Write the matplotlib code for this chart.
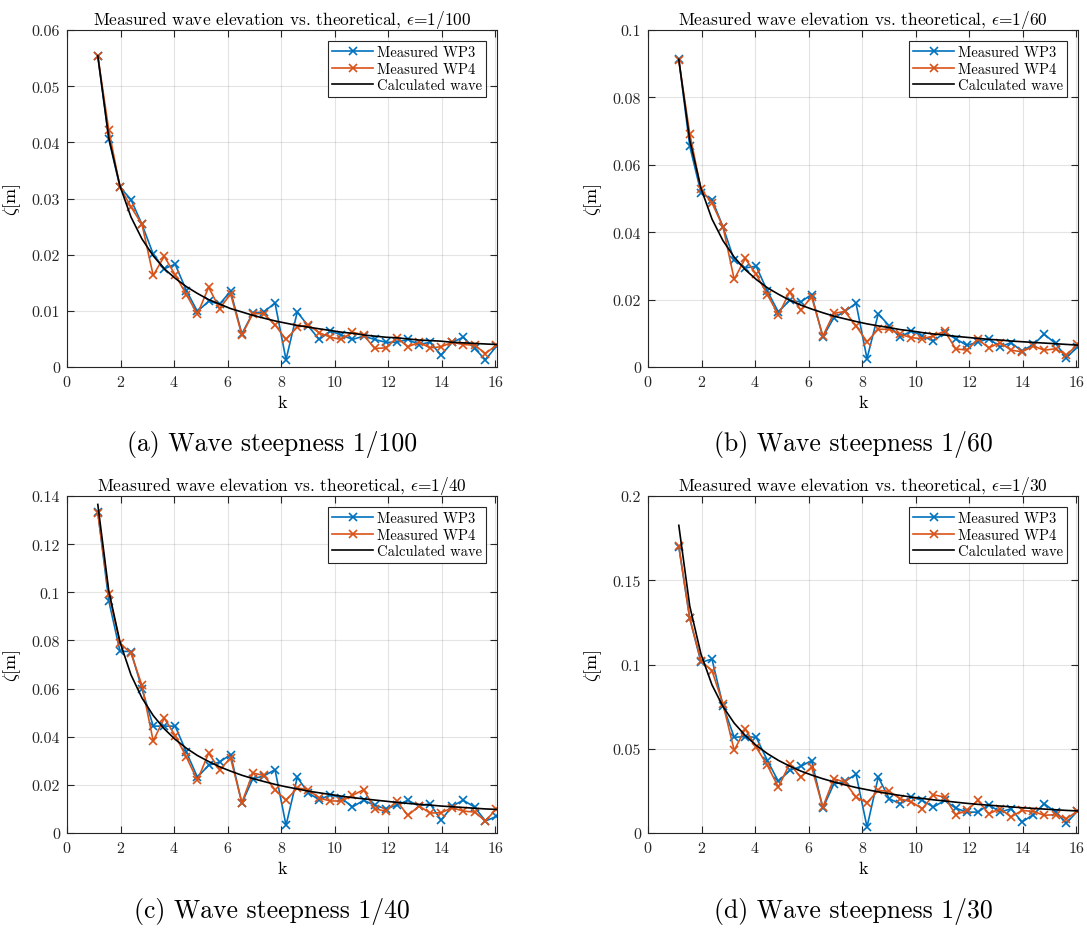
import matplotlib
matplotlib.use("Agg")
import matplotlib.pyplot as plt
from matplotlib.ticker import FuncFormatter, MultipleLocator

plt.rcParams["font.family"] = ["cmr10", "DejaVu Serif"]
plt.rcParams["mathtext.fontset"] = "cm"
plt.rcParams["axes.formatter.use_mathtext"] = True

# wave number k (same for all runs)
k = [1.15, 1.56, 1.98, 2.39, 2.80, 3.22, 3.63, 4.04, 4.46, 4.87, 5.29, 5.70,
     6.11, 6.53, 6.94, 7.35, 7.77, 8.18, 8.60, 9.01, 9.42, 9.84, 10.25, 10.66,
     11.08, 11.49, 11.91, 12.32, 12.73, 13.15, 13.56, 13.97, 14.39, 14.80,
     15.22, 15.63, 16.04]

# eps = 1/100
wp3_100 = [0.0554, 0.0406, 0.0320, 0.0298, 0.0254, 0.0201, 0.0175, 0.0183,
           0.0136, 0.0099, 0.0117, 0.0112, 0.0135, 0.0059, 0.0096, 0.0098,
           0.0114, 0.0013, 0.0098, 0.0073, 0.0049, 0.0064, 0.0057, 0.0049,
           0.0055, 0.0049, 0.0044, 0.0044, 0.0049, 0.0040, 0.0044, 0.0021,
           0.0044, 0.0053, 0.0033, 0.0013, 0.0037]
wp4_100 = [0.0554, 0.0422, 0.0320, 0.0285, 0.0254, 0.0163, 0.0197, 0.0164,
           0.0129, 0.0094, 0.0142, 0.0104, 0.0130, 0.0057, 0.0095, 0.0095,
           0.0075, 0.0049, 0.0071, 0.0075, 0.0061, 0.0053, 0.0049, 0.0062,
           0.0057, 0.0033, 0.0034, 0.0052, 0.0036, 0.0044, 0.0034, 0.0036,
           0.0044, 0.0040, 0.0039, 0.0024, 0.0039]
calc_100 = [0.0554, 0.0408, 0.0322, 0.0267, 0.0228, 0.0198, 0.0175, 0.0158,
            0.0143, 0.0131, 0.0120, 0.0112, 0.0104, 0.0098, 0.0092, 0.0087,
            0.0082, 0.0078, 0.0074, 0.0071, 0.0068, 0.0065, 0.0062, 0.0060,
            0.0057, 0.0055, 0.0053, 0.0052, 0.0050, 0.0048, 0.0047, 0.0046,
            0.0044, 0.0043, 0.0042, 0.0041, 0.0040]

# eps = 1/60
wp3_60 = [0.0914, 0.0655, 0.0517, 0.0497, 0.0416, 0.0317, 0.0294, 0.0299,
          0.0225, 0.0163, 0.0198, 0.0193, 0.0215, 0.0089, 0.0146, 0.0165,
          0.0189, 0.0025, 0.0158, 0.0122, 0.0089, 0.0107, 0.0092, 0.0077,
          0.0102, 0.0084, 0.0064, 0.0074, 0.0084, 0.0060, 0.0072, 0.0047,
          0.0067, 0.0097, 0.0070, 0.0028, 0.0059]
wp4_60 = [0.0910, 0.0692, 0.0527, 0.0487, 0.0416, 0.0260, 0.0322, 0.0275,
          0.0215, 0.0154, 0.0223, 0.0169, 0.0208, 0.0092, 0.0159, 0.0165,
          0.0122, 0.0075, 0.0112, 0.0112, 0.0097, 0.0087, 0.0084, 0.0092,
          0.0107, 0.0054, 0.0050, 0.0082, 0.0057, 0.0072, 0.0050, 0.0045,
          0.0062, 0.0050, 0.0054, 0.0035, 0.0067]
calc_60 = [0.0913, 0.0673, 0.0530, 0.0439, 0.0375, 0.0326, 0.0289, 0.0260,
           0.0235, 0.0216, 0.0198, 0.0184, 0.0172, 0.0161, 0.0151, 0.0143,
           0.0135, 0.0128, 0.0122, 0.0117, 0.0111, 0.0107, 0.0102, 0.0098,
           0.0095, 0.0091, 0.0088, 0.0085, 0.0082, 0.0080, 0.0077, 0.0075,
           0.0073, 0.0071, 0.0069, 0.0067, 0.0065]

# eps = 1/40
wp3_40 = [0.1335, 0.0965, 0.0755, 0.0754, 0.0599, 0.0444, 0.0444, 0.0444,
          0.0336, 0.0232, 0.0281, 0.0295, 0.0326, 0.0124, 0.0225, 0.0237,
          0.0263, 0.0032, 0.0231, 0.0167, 0.0138, 0.0159, 0.0145, 0.0108,
          0.0136, 0.0115, 0.0101, 0.0115, 0.0136, 0.0112, 0.0122, 0.0053,
          0.0112, 0.0136, 0.0108, 0.0050, 0.0069]
wp4_40 = [0.1329, 0.0993, 0.0788, 0.0747, 0.0613, 0.0382, 0.0477, 0.0405,
          0.0315, 0.0219, 0.0332, 0.0263, 0.0311, 0.0126, 0.0249, 0.0239,
          0.0180, 0.0136, 0.0187, 0.0180, 0.0145, 0.0133, 0.0133, 0.0156,
          0.0180, 0.0101, 0.0090, 0.0133, 0.0073, 0.0112, 0.0083, 0.0084,
          0.0105, 0.0091, 0.0087, 0.0050, 0.0101]
calc_40 = [0.1365, 0.1006, 0.0793, 0.0657, 0.0561, 0.0488, 0.0433, 0.0389,
           0.0352, 0.0322, 0.0297, 0.0275, 0.0257, 0.0240, 0.0226, 0.0214,
           0.0202, 0.0192, 0.0183, 0.0174, 0.0167, 0.0160, 0.0153, 0.0147,
           0.0142, 0.0137, 0.0132, 0.0127, 0.0123, 0.0119, 0.0116, 0.0112,
           0.0109, 0.0106, 0.0103, 0.0100, 0.0098]

# eps = 1/30
wp3_30 = [0.1700, 0.1273, 0.1013, 0.1032, 0.0756, 0.0568, 0.0572, 0.0568,
          0.0430, 0.0306, 0.0371, 0.0395, 0.0430, 0.0148, 0.0290, 0.0306,
          0.0349, 0.0036, 0.0332, 0.0203, 0.0174, 0.0213, 0.0193, 0.0154,
          0.0193, 0.0148, 0.0124, 0.0124, 0.0168, 0.0124, 0.0144, 0.0065,
          0.0109, 0.0174, 0.0124, 0.0059, 0.0130]
wp4_30 = [0.1703, 0.1273, 0.1022, 0.0963, 0.0766, 0.0490, 0.0618, 0.0509,
          0.0401, 0.0272, 0.0411, 0.0332, 0.0391, 0.0154, 0.0322, 0.0302,
          0.0213, 0.0180, 0.0253, 0.0247, 0.0203, 0.0184, 0.0144, 0.0227,
          0.0213, 0.0109, 0.0134, 0.0193, 0.0114, 0.0144, 0.0095, 0.0134,
          0.0128, 0.0105, 0.0109, 0.0085, 0.0130]
calc_30 = [0.1826, 0.1346, 0.1061, 0.0879, 0.0750, 0.0652, 0.0579, 0.0520,
           0.0471, 0.0431, 0.0397, 0.0368, 0.0344, 0.0322, 0.0303, 0.0286,
           0.0270, 0.0257, 0.0244, 0.0233, 0.0223, 0.0213, 0.0205, 0.0197,
           0.0190, 0.0183, 0.0176, 0.0170, 0.0165, 0.0160, 0.0155, 0.0150,
           0.0146, 0.0142, 0.0138, 0.0134, 0.0131]

steepness = ["1/100", "1/60", "1/40", "1/30"]
captions = ["(a) Wave steepness 1/100", "(b) Wave steepness 1/60",
            "(c) Wave steepness 1/40", "(d) Wave steepness 1/30"]
ymax = [0.06, 0.1, 0.14, 0.2]
ystep = [0.01, 0.02, 0.02, 0.05]
runs = [(wp3_100, wp4_100, calc_100), (wp3_60, wp4_60, calc_60),
        (wp3_40, wp4_40, calc_40), (wp3_30, wp4_30, calc_30)]

W, H = 1087, 929
fig = plt.figure(figsize=(W / 100, H / 100), dpi=100)

# axes boxes in pixels: left, top, right, bottom
boxes = [(67, 31, 497, 368), (648, 31, 1078, 368),
         (67, 497, 497, 834), (648, 497, 1078, 834)]
cap_y = [445, 445, 912, 912]

blue = "#0072BD"
orange = "#D95319"
edge = "#262626"

for i, (l, t, r, b) in enumerate(boxes):
    ax = fig.add_axes([l / W, 1 - b / H, (r - l) / W, (b - t) / H])
    wp3, wp4, calc = runs[i]
    ax.plot(k, wp3, color=blue, marker="x", markersize=5.5, mew=1.2, lw=1.2,
            label="Measured WP3")
    ax.plot(k, wp4, color=orange, marker="x", markersize=5.5, mew=1.2, lw=1.2,
            label="Measured WP4")
    ax.plot(k, calc, color="black", lw=1.2, label="Calculated wave")

    ax.set_xlim(0, 16.06)
    ax.set_ylim(0, ymax[i])
    ax.xaxis.set_major_locator(MultipleLocator(2))
    ax.yaxis.set_major_locator(MultipleLocator(ystep[i]))
    ax.yaxis.set_major_formatter(FuncFormatter(lambda v, p: "%g" % round(v, 4)))
    ax.grid(True, color="#262626", alpha=0.12, lw=0.8)
    ax.tick_params(direction="in", top=True, right=True, length=5,
                   labelsize=11.5, colors=edge, width=0.8, pad=5)
    for s in ax.spines.values():
        s.set_color(edge)
        s.set_linewidth(0.8)

    ax.set_title(r"Measured wave elevation vs. theoretical, $\epsilon$=" + steepness[i],
                 fontsize=12.5, pad=4)
    ax.set_xlabel("k", fontsize=13, labelpad=4)
    ax.set_ylabel(r"$\zeta$[m]", fontsize=13, labelpad=6)

    leg = ax.legend(loc="upper right", fontsize=10.5, fancybox=False,
                    framealpha=1, edgecolor=edge, handlelength=2.8,
                    handletextpad=0.25, borderpad=0.3, labelspacing=0.2,
                    borderaxespad=0.75)
    leg.get_frame().set_linewidth(0.8)

    cx = (l + r) / 2 - 10
    fig.text(cx / W, 1 - cap_y[i] / H, captions[i], ha="center", va="center",
             fontsize=18.5)

fig.savefig("out.png", dpi=100)
